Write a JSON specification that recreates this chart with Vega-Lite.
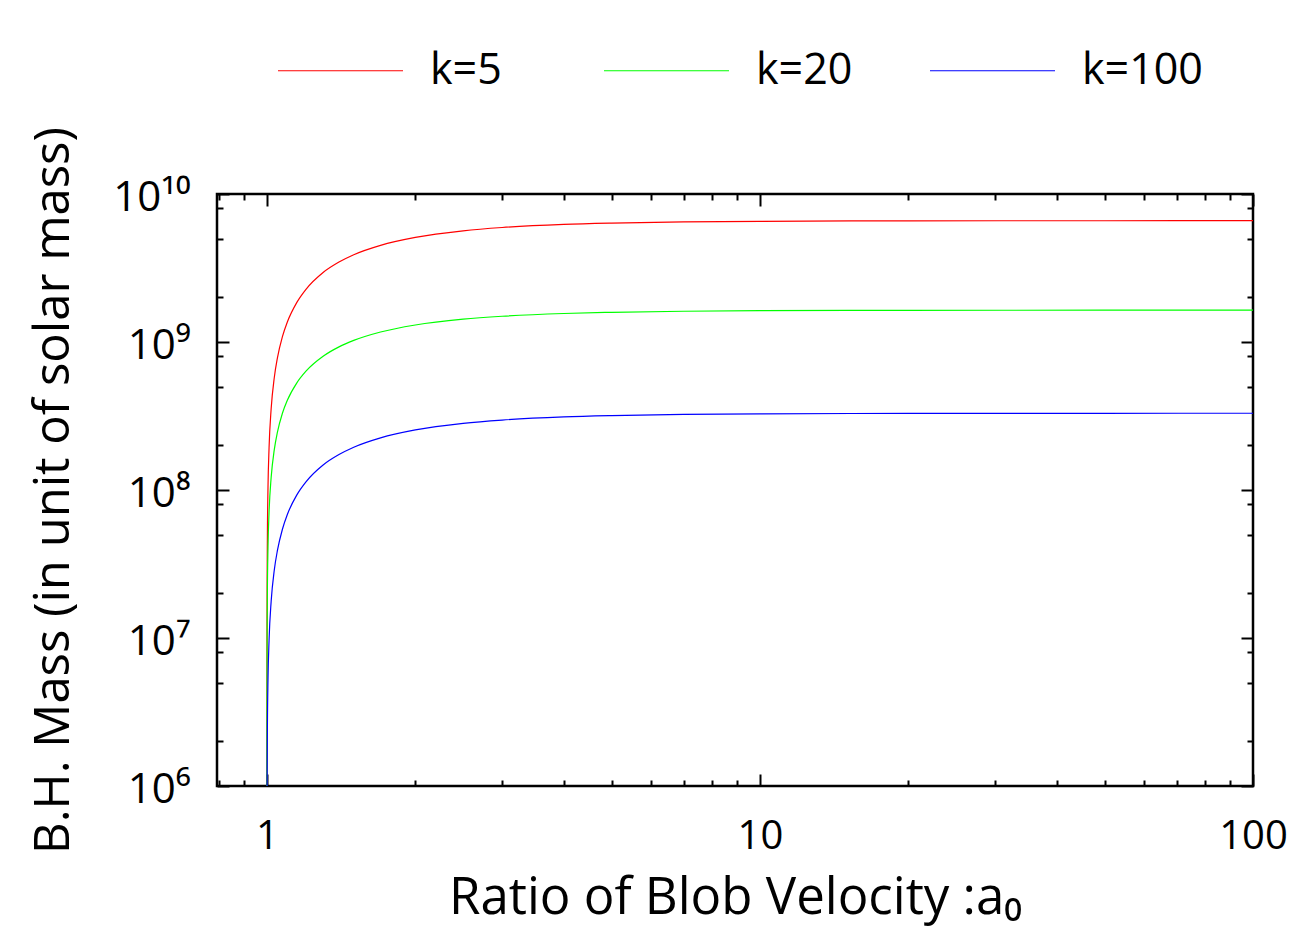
{
  "$schema": "https://vega.github.io/schema/vega-lite/v6.json",
  "width": 1036,
  "height": 592,
  "autosize": "none",
  "padding": {"left": 217, "top": 194, "right": 38, "bottom": 141},
  "background": "white",
  "config": {
    "view": {"stroke": "black", "strokeWidth": 2.5},
    "font": "Open Sans",
    "axis": {"grid": false, "domain": false, "labelColor": "black", "tickColor": "black", "titleColor": "black", "labelFont": "Open Sans", "titleFont": "Open Sans", "titleFontWeight": "normal", "tickWidth": 2}
  },
  "data": {
    "values": [
      {"k": "k=5", "a": 1.00003, "mass": 1e6},
      {"k": "k=5", "a": 1.0001, "mass": 3.09e6},
      {"k": "k=5", "a": 1.0005, "mass": 1.31e7},
      {"k": "k=5", "a": 1.001, "mass": 2.46e7},
      {"k": "k=5", "a": 1.002, "mass": 4.58e7},
      {"k": "k=5", "a": 1.005, "mass": 1.04e8},
      {"k": "k=5", "a": 1.01, "mass": 1.93e8},
      {"k": "k=5", "a": 1.02, "mass": 3.55e8},
      {"k": "k=5", "a": 1.035, "mass": 5.76e8},
      {"k": "k=5", "a": 1.05, "mass": 7.78e8},
      {"k": "k=5", "a": 1.075, "mass": 1.086e9},
      {"k": "k=5", "a": 1.1, "mass": 1.365e9},
      {"k": "k=5", "a": 1.15, "mass": 1.853e9},
      {"k": "k=5", "a": 1.2, "mass": 2.27e9},
      {"k": "k=5", "a": 1.3, "mass": 2.95e9},
      {"k": "k=5", "a": 1.4, "mass": 3.47e9},
      {"k": "k=5", "a": 1.5, "mass": 3.89e9},
      {"k": "k=5", "a": 1.7, "mass": 4.5e9},
      {"k": "k=5", "a": 2, "mass": 5.09e9},
      {"k": "k=5", "a": 2.5, "mass": 5.64e9},
      {"k": "k=5", "a": 3, "mass": 5.94e9},
      {"k": "k=5", "a": 4, "mass": 6.23e9},
      {"k": "k=5", "a": 5, "mass": 6.36e9},
      {"k": "k=5", "a": 7, "mass": 6.48e9},
      {"k": "k=5", "a": 10, "mass": 6.54e9},
      {"k": "k=5", "a": 20, "mass": 6.585e9},
      {"k": "k=5", "a": 50, "mass": 6.598e9},
      {"k": "k=5", "a": 100, "mass": 6.6e9},
      {"k": "k=20", "a": 1.00005, "mass": 1e6},
      {"k": "k=20", "a": 1.0001, "mass": 1.8e6},
      {"k": "k=20", "a": 1.0005, "mass": 6.53e6},
      {"k": "k=20", "a": 1.001, "mass": 1.135e7},
      {"k": "k=20", "a": 1.002, "mass": 1.98e7},
      {"k": "k=20", "a": 1.005, "mass": 4.1e7},
      {"k": "k=20", "a": 1.01, "mass": 7.09e7},
      {"k": "k=20", "a": 1.02, "mass": 1.219e8},
      {"k": "k=20", "a": 1.035, "mass": 1.875e8},
      {"k": "k=20", "a": 1.05, "mass": 2.45e8},
      {"k": "k=20", "a": 1.075, "mass": 3.3e8},
      {"k": "k=20", "a": 1.1, "mass": 4.04e8},
      {"k": "k=20", "a": 1.15, "mass": 5.3e8},
      {"k": "k=20", "a": 1.2, "mass": 6.35e8},
      {"k": "k=20", "a": 1.3, "mass": 8.01e8},
      {"k": "k=20", "a": 1.4, "mass": 9.27e8},
      {"k": "k=20", "a": 1.5, "mass": 1.025e9},
      {"k": "k=20", "a": 1.7, "mass": 1.168e9},
      {"k": "k=20", "a": 2, "mass": 1.303e9},
      {"k": "k=20", "a": 2.5, "mass": 1.4265e9},
      {"k": "k=20", "a": 3, "mass": 1.4926e9},
      {"k": "k=20", "a": 4, "mass": 1.5575e9},
      {"k": "k=20", "a": 5, "mass": 1.5873e9},
      {"k": "k=20", "a": 7, "mass": 1.6132e9},
      {"k": "k=20", "a": 10, "mass": 1.6269e9},
      {"k": "k=20", "a": 20, "mass": 1.6367e9},
      {"k": "k=20", "a": 50, "mass": 1.6395e9},
      {"k": "k=20", "a": 100, "mass": 1.64e9},
      {"k": "k=100", "a": 1.0008, "mass": 1e6},
      {"k": "k=100", "a": 1.001, "mass": 1.23e6},
      {"k": "k=100", "a": 1.002, "mass": 2.29e6},
      {"k": "k=100", "a": 1.005, "mass": 5.2e6},
      {"k": "k=100", "a": 1.01, "mass": 9.65e6},
      {"k": "k=100", "a": 1.02, "mass": 1.775e7},
      {"k": "k=100", "a": 1.035, "mass": 2.88e7},
      {"k": "k=100", "a": 1.05, "mass": 3.89e7},
      {"k": "k=100", "a": 1.075, "mass": 5.43e7},
      {"k": "k=100", "a": 1.1, "mass": 6.83e7},
      {"k": "k=100", "a": 1.15, "mass": 9.27e7},
      {"k": "k=100", "a": 1.2, "mass": 1.135e8},
      {"k": "k=100", "a": 1.3, "mass": 1.475e8},
      {"k": "k=100", "a": 1.4, "mass": 1.735e8},
      {"k": "k=100", "a": 1.5, "mass": 1.945e8},
      {"k": "k=100", "a": 1.7, "mass": 2.25e8},
      {"k": "k=100", "a": 2, "mass": 2.545e8},
      {"k": "k=100", "a": 2.5, "mass": 2.82e8},
      {"k": "k=100", "a": 3, "mass": 2.97e8},
      {"k": "k=100", "a": 4, "mass": 3.115e8},
      {"k": "k=100", "a": 5, "mass": 3.18e8},
      {"k": "k=100", "a": 7, "mass": 3.24e8},
      {"k": "k=100", "a": 10, "mass": 3.27e8},
      {"k": "k=100", "a": 20, "mass": 3.2925e8},
      {"k": "k=100", "a": 50, "mass": 3.299e8},
      {"k": "k=100", "a": 100, "mass": 3.3e8}
    ]
  },
  "layer": [
    {
      "mark": {"type": "line", "strokeWidth": 1.2, "interpolate": "monotone", "clip": true},
      "encoding": {
        "x": {"field": "a", "type": "quantitative", "scale": {"type": "log", "domain": [0.792, 100], "nice": false, "zero": false},
          "axis": {"orient": "bottom", "values": [1, 10, 100], "ticks": false, "labelFontSize": 40, "labelPadding": 30, "labelFlush": false, "title": "Ratio of Blob Velocity :a₀", "titleFontSize": 51, "titlePadding": 17}},
        "y": {"field": "mass", "type": "quantitative", "scale": {"type": "log", "domain": [1e6, 1e10], "nice": false},
          "axis": {"orient": "left", "values": [1e6, 1e7, 1e8, 1e9, 1e10], "ticks": false, "labelFontSize": 42, "labelPadding": 27, "labelOffset": 3, "labelFlush": false,
            "labelExpr": "datum.value > 5e9 ? '10¹⁰' : datum.value > 5e8 ? '10⁹' : datum.value > 5e7 ? '10⁸' : datum.value > 5e6 ? '10⁷' : '10⁶'",
            "title": "B.H. Mass (in unit of solar mass)", "titleFontSize": 49, "titlePadding": 34}},
        "color": {"field": "k", "type": "nominal",
          "scale": {"domain": ["k=5", "k=20", "k=100"], "range": ["#ff0000", "#00ff00", "#0000ff"]},
          "legend": {"orient": "none", "legendX": 60, "legendY": -187, "direction": "horizontal", "title": null, "symbolType": "stroke", "symbolSize": 15625, "symbolStrokeWidth": 1.2, "labelFontSize": 43, "labelOffset": 26, "columnPadding": 50, "gridAlign": "all", "labelFont": "Open Sans", "labelColor": "black", "padding": 0}}
      }
    },
    {
      "mark": {"type": "point", "opacity": 0},
      "encoding": {
        "x": {"field": "a", "type": "quantitative", "scale": {"type": "log", "domain": [0.792, 100], "nice": false, "zero": false},
          "axis": {"orient": "bottom", "values": [1, 10, 100], "labels": false, "tickSize": -12, "title": null}},
        "y": {"field": "mass", "type": "quantitative", "scale": {"type": "log", "domain": [1e6, 1e10], "nice": false},
          "axis": {"orient": "left", "values": [1e6, 1e7, 1e8, 1e9, 1e10], "labels": false, "tickSize": -12, "title": null}}
      }
    },
    {
      "mark": {"type": "point", "opacity": 0},
      "encoding": {
        "x": {"field": "a", "type": "quantitative", "scale": {"type": "log", "domain": [0.792, 100], "nice": false, "zero": false},
          "axis": {"orient": "bottom", "values": [0.8, 0.9, 2, 3, 4, 5, 6, 7, 8, 9, 20, 30, 40, 50, 60, 70, 80, 90], "labels": false, "tickSize": -6, "title": null}},
        "y": {"field": "mass", "type": "quantitative", "scale": {"type": "log", "domain": [1e6, 1e10], "nice": false},
          "axis": {"orient": "left", "values": [2e6, 5e6, 8e6, 2e7, 5e7, 8e7, 2e8, 5e8, 8e8, 2e9, 5e9, 8e9], "labels": false, "tickSize": -6, "title": null}}
      }
    },
    {
      "mark": {"type": "point", "opacity": 0},
      "encoding": {
        "x": {"field": "a", "type": "quantitative", "scale": {"type": "log", "domain": [0.792, 100], "nice": false, "zero": false},
          "axis": {"orient": "top", "values": [1, 10, 100], "labels": false, "tickSize": -12, "title": null}},
        "y": {"field": "mass", "type": "quantitative", "scale": {"type": "log", "domain": [1e6, 1e10], "nice": false},
          "axis": {"orient": "right", "values": [1e6, 1e7, 1e8, 1e9, 1e10], "labels": false, "tickSize": -12, "title": null}}
      }
    },
    {
      "mark": {"type": "point", "opacity": 0},
      "encoding": {
        "x": {"field": "a", "type": "quantitative", "scale": {"type": "log", "domain": [0.792, 100], "nice": false, "zero": false},
          "axis": {"orient": "top", "values": [0.8, 0.9, 2, 3, 4, 5, 6, 7, 8, 9, 20, 30, 40, 50, 60, 70, 80, 90], "labels": false, "tickSize": -6, "title": null}},
        "y": {"field": "mass", "type": "quantitative", "scale": {"type": "log", "domain": [1e6, 1e10], "nice": false},
          "axis": {"orient": "right", "values": [2e6, 5e6, 8e6, 2e7, 5e7, 8e7, 2e8, 5e8, 8e8, 2e9, 5e9, 8e9], "labels": false, "tickSize": -6, "title": null}}
      }
    }
  ],
  "resolve": {"axis": {"x": "independent", "y": "independent"}}
}
